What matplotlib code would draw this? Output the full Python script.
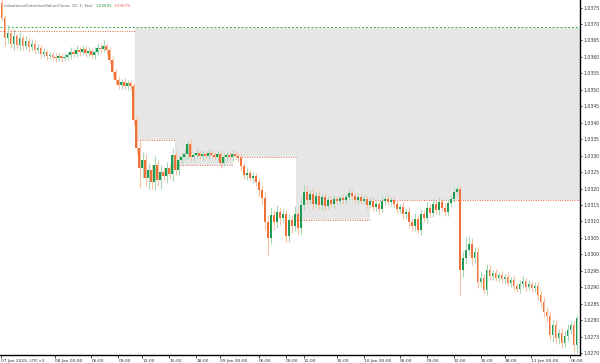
import matplotlib
matplotlib.use('Agg')
import matplotlib.pyplot as plt

# candle data (one value per bar), opens follow the previous close
first_open = 1.03764
closes = [
    1.03718, 1.03658, 1.03673, 1.03639, 1.03664, 1.03636, 1.03658, 1.03633, 1.03648, 1.03630,
    1.03639, 1.03621, 1.03627, 1.03609, 1.03615, 1.03603, 1.03606, 1.03600, 1.03597, 1.03603,
    1.03597, 1.03600, 1.03606, 1.03615, 1.03609, 1.03621, 1.03615, 1.03624, 1.03612, 1.03618,
    1.03606, 1.03615, 1.03627, 1.03624, 1.03633, 1.03621, 1.03591, 1.03554, 1.03530, 1.03515,
    1.03524, 1.03512, 1.03521, 1.03512, 1.03408, 1.03323, 1.03262, 1.03287, 1.03232, 1.03256,
    1.03220, 1.03272, 1.03226, 1.03250, 1.03238, 1.03262, 1.03244, 1.03302, 1.03256, 1.03287,
    1.03296, 1.03305, 1.03335, 1.03296, 1.03302, 1.03308, 1.03299, 1.03305, 1.03299, 1.03308,
    1.03302, 1.03296, 1.03305, 1.03278, 1.03296, 1.03302, 1.03296, 1.03305, 1.03299, 1.03293,
    1.03268, 1.03241, 1.03247, 1.03232, 1.03238, 1.03220, 1.03196, 1.03171, 1.03098, 1.03050,
    1.03120, 1.03098, 1.03129, 1.03110, 1.03123, 1.03056, 1.03104, 1.03086, 1.03123, 1.03080,
    1.03150, 1.03189, 1.03165, 1.03183, 1.03153, 1.03177, 1.03150, 1.03174, 1.03147, 1.03165,
    1.03153, 1.03168, 1.03162, 1.03171, 1.03165, 1.03174, 1.03186, 1.03177, 1.03165, 1.03174,
    1.03162, 1.03168, 1.03150, 1.03162, 1.03144, 1.03153, 1.03138, 1.03162, 1.03168, 1.03159,
    1.03165, 1.03153, 1.03138, 1.03144, 1.03123, 1.03129, 1.03098, 1.03086, 1.03107, 1.03074,
    1.03123, 1.03110, 1.03141, 1.03126, 1.03153, 1.03135, 1.03159, 1.03141, 1.03129, 1.03156,
    1.03168, 1.03189, 1.03199, 1.02952, 1.02989, 1.03013, 1.03031, 1.02989, 1.03007, 1.02916,
    1.02928, 1.02892, 1.02952, 1.02934, 1.02943, 1.02928, 1.02937, 1.02925, 1.02931, 1.02913,
    1.02922, 1.02904, 1.02895, 1.02910, 1.02919, 1.02901, 1.02910, 1.02898, 1.02904, 1.02876,
    1.02855, 1.02825, 1.02812, 1.02755, 1.02785, 1.02746, 1.02761, 1.02730, 1.02752, 1.02770,
    1.02785, 1.02724, 1.02806,
]
# wick lengths above / below the body, in pips
wick_up = [
    1.5, 1.0, 2.5, 1.2, 2.0, 0.8, 1.8, 1.0, 1.5, 0.9, 1.6, 1.1, 1.3, 0.8, 1.2, 0.7, 1.0, 0.9, 1.1, 0.8,
    1.0, 1.2, 0.9, 1.4, 0.8, 1.5, 1.0, 1.3, 0.9, 1.2, 1.0, 1.4, 1.6, 1.1, 1.8, 1.0, 0.8, 1.2, 0.9, 1.3,
    1.0, 1.1, 0.9, 1.0, 0.8, 1.2, 2.0, 2.5, 1.8, 2.2, 1.5, 2.8, 1.6, 2.0, 1.4, 1.8, 1.2, 2.2, 1.5, 1.6,
    1.2, 1.4, 1.0, 1.5, 1.0, 1.2, 0.8, 1.0, 0.9, 1.1, 0.8, 1.0, 1.2, 0.9, 1.3, 1.0, 0.8, 1.1, 0.9, 1.0,
    1.2, 1.0, 1.5, 0.9, 1.2, 1.0, 1.3, 1.5, 1.8, 2.0, 2.5, 1.6, 2.2, 1.5, 1.8, 1.2, 2.0, 1.6, 2.4, 1.5,
    2.0, 2.1, 1.8, 1.4, 1.6, 1.2, 1.4, 1.0, 1.3, 1.1, 1.0, 1.2, 0.9, 1.0, 1.1, 0.9, 1.2, 1.0, 0.8, 1.1,
    1.0, 1.2, 0.9, 1.1, 1.0, 1.3, 0.9, 1.5, 1.0, 1.2, 0.8, 1.0, 1.2, 0.9, 1.4, 1.1, 1.5, 1.2, 1.8, 1.4,
    1.6, 1.3, 1.8, 1.2, 1.5, 1.0, 1.4, 1.2, 1.6, 1.2, 1.3, 1.4, 1.0, 0.8, 2.0, 4.0, 2.5, 1.8, 1.5, 1.4,
    1.8, 1.2, 2.0, 1.5, 1.0, 1.3, 0.9, 1.2, 1.0, 1.4, 0.8, 1.1, 1.0, 1.2, 1.5, 0.9, 1.2, 1.0, 1.3, 1.1,
    1.2, 1.4, 1.6, 1.2, 1.8, 1.5, 1.3, 1.6, 1.4, 1.8, 1.2, 1.5, 1.0,
]
wick_dn = [
    1.0, 2.5, 1.5, 1.2, 1.8, 1.0, 1.5, 1.2, 1.0, 1.4, 1.1, 1.2, 0.9, 1.3, 1.0, 1.1, 0.8, 1.0, 1.2, 0.9,
    1.1, 0.8, 1.0, 1.2, 0.9, 1.0, 1.1, 0.8, 1.2, 1.0, 0.9, 1.1, 1.0, 1.2, 0.8, 1.5, 1.2, 1.4, 1.6, 1.2,
    1.3, 1.0, 1.2, 1.4, 1.5, 1.8, 6.0, 3.0, 2.5, 3.2, 2.0, 2.4, 1.8, 2.6, 1.5, 2.0, 1.6, 2.2, 1.4, 1.5,
    1.2, 1.0, 1.4, 1.1, 1.2, 0.9, 1.0, 1.2, 0.8, 1.1, 1.0, 0.9, 1.2, 1.5, 1.0, 1.1, 0.9, 1.2, 1.0, 1.3,
    1.5, 1.2, 1.4, 1.0, 1.6, 1.3, 1.8, 2.0, 2.5, 5.2, 2.0, 2.4, 1.8, 2.2, 1.6, 2.0, 1.8, 2.2, 1.5, 2.0,
    1.8, 1.5, 1.6, 1.2, 1.4, 1.0, 1.3, 1.1, 1.2, 0.9, 1.0, 1.1, 0.8, 1.0, 1.2, 0.9, 1.0, 1.1, 0.9, 1.2,
    1.0, 0.9, 1.2, 1.0, 1.3, 1.1, 1.4, 1.0, 1.2, 0.9, 1.1, 1.0, 1.3, 1.2, 1.5, 1.2, 1.8, 1.6, 1.4, 0.8,
    1.5, 1.2, 1.6, 1.3, 1.4, 1.2, 1.5, 1.0, 1.3, 1.2, 1.1, 1.0, 0.9, 7.6, 2.2, 1.8, 1.6, 2.0, 1.5, 1.8,
    1.5, 1.4, 1.6, 1.2, 1.3, 1.0, 1.2, 1.1, 1.4, 1.0, 1.2, 1.3, 1.0, 1.4, 1.1, 1.2, 1.0, 1.3, 1.1, 1.5,
    1.6, 1.4, 1.8, 1.5, 2.0, 1.6, 1.8, 1.4, 1.2, 1.5, 1.3, 2.0, 2.5,
]

# imbalance zones (bar index range, price range)
zone_x0 = [44.5, 57.8, 57.8, 98.5, 98.5]
zone_x1 = [193.2, 193.2, 77.2, 193.2, 123.2]
zone_top = [1.03688, 1.03348, 1.03296, 1.03296, 1.03165]
zone_bot = [1.03348, 1.03296, 1.03272, 1.03165, 1.03104]
# red dotted zone edges
edge_x0 = [-0.5, 45.2, 59.5, 78.8, 98.5, 123.2]
edge_x1 = [44.5, 57.8, 77.2, 98.5, 123.2, 193.2]
edge_y = [1.03679, 1.03348, 1.03272, 1.03296, 1.03104, 1.03165]
level_green = 1.03691

tick_idx = [0, 18, 30, 39, 47, 56, 65, 73, 86, 95, 101, 112, 121, 133, 142, 151, 160, 168, 177, 190]
tick_lbl = ['07 Jan 2025, UTC+2', '08 Jan 00:00', '06:00', '09:00', '12:00', '15:00', '18:00',
            '09 Jan 00:00', '06:00', '09:00', '12:00', '15:00', '10 Jan 00:00', '06:00', '09:00',
            '12:00', '15:00', '18:00', '13 Jan 00:00', '06:00']
price_ticks = [1.0270 + 0.0005 * k for k in range(22)]

pip = 0.0001
opens = [first_open] + closes[:-1]
highs = [max(o, c) + u * pip for o, c, u in zip(opens, closes, wick_up)]
lows = [min(o, c) - d * pip for o, c, d in zip(opens, closes, wick_dn)]

up_col, dn_col = '#1f9a52', '#f0703a'
up_wick, dn_wick = '#a6d8b8', '#f7c0a0'

fig = plt.figure(figsize=(6, 3.63), dpi=100)
ax = fig.add_axes([0, 8 / 363, 580 / 600, 355 / 363])

for x0, x1, t, b in zip(zone_x0, zone_x1, zone_top, zone_bot):
    ax.fill_between([x0, x1], b, t, color='#e6e6e6', lw=0, zorder=0)
for x0, x1, y in zip(edge_x0, edge_x1, edge_y):
    ax.hlines(y, x0, x1, colors='#e8604c', linestyles=(0, (1, 1.5)), lw=0.7, zorder=1)
ax.axhline(level_green, color='#3fae3f', ls=(0, (2, 2)), lw=0.7, zorder=1)

for i, (o, c, h, l) in enumerate(zip(opens, closes, highs, lows)):
    bull = c >= o
    ax.vlines(i + 0.15, l, h, colors=up_wick if bull else dn_wick, lw=0.8, zorder=2)
    body = max(abs(c - o), 0.00002)
    ax.bar(i, body, bottom=min(o, c), width=0.6, color=up_col if bull else dn_col,
           lw=0, zorder=3)

ax.set_xlim(-0.5, 193.2)
ax.set_ylim(1.02694, 1.03773)
for s in ['left', 'top']:
    ax.spines[s].set_visible(False)
ax.spines['right'].set_linewidth(1.0)
ax.spines['bottom'].set_linewidth(1.0)
ax.yaxis.tick_right()
ax.set_yticks(price_ticks)
ax.set_yticklabels(['%.4f' % p for p in price_ticks], fontsize=3.3, color='#333333')
ax.tick_params(axis='y', length=1.5, width=0.5, pad=1)
ax.set_xticks(tick_idx)
ax.set_xticklabels(tick_lbl, fontsize=3.2, color='#333333', ha='left')
ax.tick_params(axis='x', length=2, width=0.5, pad=1)

fig.text(4 / 600, 1 - 6 / 363, 'imbalanceDetectionValue(Close, 10, 1, Yes)', fontsize=3.0,
         color='#666666', va='center')
fig.text(96 / 600, 1 - 6 / 363, '1.03691', fontsize=3.0, color='#2e9a3e', va='center')
fig.text(114 / 600, 1 - 6 / 363, '1.03679', fontsize=3.0, color='#e8604c', va='center')

fig.savefig('out.png', dpi=100, facecolor='white')
